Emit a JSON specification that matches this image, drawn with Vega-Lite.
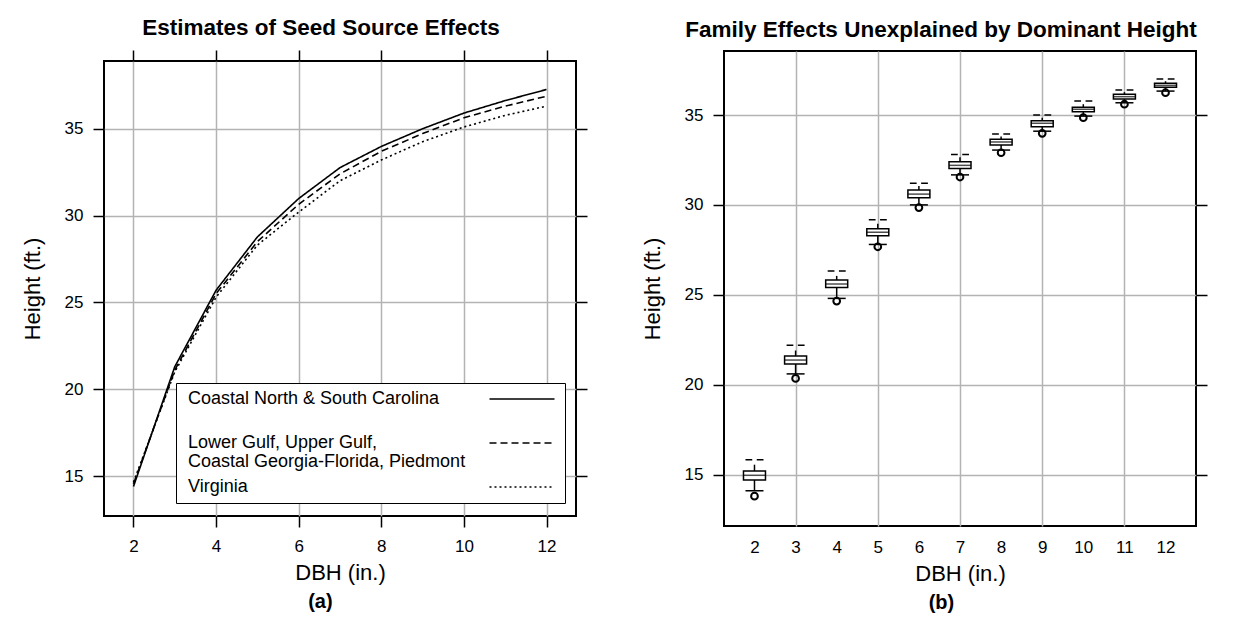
{
  "$schema": "https://vega.github.io/schema/vega-lite/v6.json",
  "background": "white",
  "padding": {"left": 20, "top": 16, "right": 5, "bottom": 0},
  "datasets": {
    "curves": [
      {"dbh": 2, "source": "Coastal North & South Carolina", "height": 14.4},
      {"dbh": 3, "source": "Coastal North & South Carolina", "height": 21.3},
      {"dbh": 4, "source": "Coastal North & South Carolina", "height": 25.7},
      {"dbh": 5, "source": "Coastal North & South Carolina", "height": 28.77},
      {"dbh": 6, "source": "Coastal North & South Carolina", "height": 30.98},
      {"dbh": 7, "source": "Coastal North & South Carolina", "height": 32.76},
      {"dbh": 8, "source": "Coastal North & South Carolina", "height": 33.98},
      {"dbh": 9, "source": "Coastal North & South Carolina", "height": 35.0},
      {"dbh": 10, "source": "Coastal North & South Carolina", "height": 35.9},
      {"dbh": 11, "source": "Coastal North & South Carolina", "height": 36.62},
      {"dbh": 12, "source": "Coastal North & South Carolina", "height": 37.26},
      {"dbh": 2, "source": "Lower Gulf, Upper Gulf, Coastal Georgia-Florida, Piedmont", "height": 14.55},
      {"dbh": 3, "source": "Lower Gulf, Upper Gulf, Coastal Georgia-Florida, Piedmont", "height": 21.1},
      {"dbh": 4, "source": "Lower Gulf, Upper Gulf, Coastal Georgia-Florida, Piedmont", "height": 25.5},
      {"dbh": 5, "source": "Lower Gulf, Upper Gulf, Coastal Georgia-Florida, Piedmont", "height": 28.5},
      {"dbh": 6, "source": "Lower Gulf, Upper Gulf, Coastal Georgia-Florida, Piedmont", "height": 30.65},
      {"dbh": 7, "source": "Lower Gulf, Upper Gulf, Coastal Georgia-Florida, Piedmont", "height": 32.4},
      {"dbh": 8, "source": "Lower Gulf, Upper Gulf, Coastal Georgia-Florida, Piedmont", "height": 33.7},
      {"dbh": 9, "source": "Lower Gulf, Upper Gulf, Coastal Georgia-Florida, Piedmont", "height": 34.72},
      {"dbh": 10, "source": "Lower Gulf, Upper Gulf, Coastal Georgia-Florida, Piedmont", "height": 35.63},
      {"dbh": 11, "source": "Lower Gulf, Upper Gulf, Coastal Georgia-Florida, Piedmont", "height": 36.3},
      {"dbh": 12, "source": "Lower Gulf, Upper Gulf, Coastal Georgia-Florida, Piedmont", "height": 36.87},
      {"dbh": 2, "source": "Virginia", "height": 14.65},
      {"dbh": 3, "source": "Virginia", "height": 21.0},
      {"dbh": 4, "source": "Virginia", "height": 25.3},
      {"dbh": 5, "source": "Virginia", "height": 28.3},
      {"dbh": 6, "source": "Virginia", "height": 30.2},
      {"dbh": 7, "source": "Virginia", "height": 32.0},
      {"dbh": 8, "source": "Virginia", "height": 33.2},
      {"dbh": 9, "source": "Virginia", "height": 34.25},
      {"dbh": 10, "source": "Virginia", "height": 35.1},
      {"dbh": 11, "source": "Virginia", "height": 35.77},
      {"dbh": 12, "source": "Virginia", "height": 36.3}
    ],
    "boxes": [
      {"dbh": 2, "cap": 15.83, "hi": 15.55, "q3": 15.2, "med": 14.96, "q1": 14.7, "lo": 14.1, "out": 13.8},
      {"dbh": 3, "cap": 22.2, "hi": 21.9, "q3": 21.6, "med": 21.37, "q1": 21.15, "lo": 20.6, "out": 20.35},
      {"dbh": 4, "cap": 26.33, "hi": 26.05, "q3": 25.82, "med": 25.6, "q1": 25.4, "lo": 24.8, "out": 24.65},
      {"dbh": 5, "cap": 29.17, "hi": 28.95, "q3": 28.68, "med": 28.48, "q1": 28.28, "lo": 27.8, "out": 27.67},
      {"dbh": 6, "cap": 31.2, "hi": 31.05, "q3": 30.83, "med": 30.6, "q1": 30.4, "lo": 30.0, "out": 29.85},
      {"dbh": 7, "cap": 32.8, "hi": 32.65, "q3": 32.4, "med": 32.2, "q1": 32.03, "lo": 31.67, "out": 31.55},
      {"dbh": 8, "cap": 33.94, "hi": 33.8, "q3": 33.65, "med": 33.5, "q1": 33.33, "lo": 33.05, "out": 32.9},
      {"dbh": 9, "cap": 35.0, "hi": 34.85, "q3": 34.68, "med": 34.54, "q1": 34.35, "lo": 34.1, "out": 33.98},
      {"dbh": 10, "cap": 35.78, "hi": 35.6, "q3": 35.43, "med": 35.32, "q1": 35.18, "lo": 34.94, "out": 34.85},
      {"dbh": 11, "cap": 36.39, "hi": 36.27, "q3": 36.15, "med": 36.02, "q1": 35.89, "lo": 35.68, "out": 35.6},
      {"dbh": 12, "cap": 37.0, "hi": 36.88, "q3": 36.76, "med": 36.65, "q1": 36.54, "lo": 36.33, "out": 36.24}
    ]
  },
  "spacing": 51,
  "hconcat": [
    {
      "title": {"text": "(a)", "orient": "bottom", "anchor": "middle", "frame": "bounds", "dx": 16, "fontSize": 20, "offset": 8},
      "spacing": 0,
      "bounds": "flush",
      "vconcat": [
        {
          "width": 472,
          "height": 10,
          "title": {"text": "Estimates of Seed Source Effects", "anchor": "middle", "frame": "group", "dx": -19, "offset": 12},
          "data": {"values": []},
          "mark": {"type": "point", "opacity": 0},
          "view": {"stroke": null, "fill": null}
        },
        {
          "width": 472,
          "height": 455,
          "data": {"name": "curves"},
          "layer": [
            {
              "mark": {"type": "line", "strokeWidth": 1.6, "color": "black"},
              "encoding": {
                "x": {"field": "dbh", "type": "quantitative", "scale": {"domain": [1.286, 12.714], "nice": false, "zero": false},
                  "axis": {"orient": "bottom", "values": [2, 4, 6, 8, 10, 12], "grid": true, "tickSize": 11, "labelPadding": 11, "title": "DBH (in.)", "titlePadding": 8}},
                "y": {"field": "height", "type": "quantitative", "scale": {"domain": [12.7, 38.9], "nice": false, "zero": false},
                  "axis": {"orient": "left", "values": [15, 20, 25, 30, 35], "grid": true, "tickSize": 11, "labelPadding": 10, "title": "Height (ft.)", "titlePadding": 20}},
                "strokeDash": {
                  "field": "source", "type": "nominal",
                  "scale": {"domain": ["Coastal North & South Carolina", "Lower Gulf, Upper Gulf, Coastal Georgia-Florida, Piedmont", "Virginia"], "range": [[1, 0], [7, 4], [2, 3]]},
                  "legend": {
                    "orient": "none", "legendX": 72, "legendY": 332, "title": null,
                    "symbolType": "M-6.5,0L6.5,0", "symbolSize": 100, "symbolStrokeWidth": 1.6, "symbolStrokeColor": "black", "symbolFillColor": "transparent",
                    "symbolOffset": 330, "labelOffset": -343,
                    "labelFontSize": 18, "labelColor": "black", "labelLimit": 400,
                    "labelExpr": "datum.label == 'Lower Gulf, Upper Gulf, Coastal Georgia-Florida, Piedmont' ? ['Lower Gulf, Upper Gulf,', 'Coastal Georgia-Florida, Piedmont'] : (datum.label == 'Virginia' ? datum.label : [datum.label, ''])",
                    "rowPadding": 7, "padding": 7,
                    "strokeColor": "black", "fillColor": "white",
                    "encode": {"labels": {"update": {"lineHeight": {"value": 18.5}}}}
                  }
                }
              }
            },
            {
              "mark": {"type": "line", "strokeOpacity": 0},
              "encoding": {
                "x": {"field": "dbh", "type": "quantitative", "scale": {"domain": [1.286, 12.714], "nice": false, "zero": false},
                  "axis": {"orient": "top", "values": [2, 4, 6, 8, 10, 12], "grid": false, "labels": false, "tickSize": 11, "title": null}},
                "y": {"field": "height", "type": "quantitative", "scale": {"domain": [12.7, 38.9], "nice": false, "zero": false},
                  "axis": {"orient": "right", "values": [15, 20, 25, 30, 35], "grid": false, "labels": false, "tickSize": 11, "title": null}},
                "detail": {"field": "source"}
              }
            }
          ],
          "resolve": {"axis": {"x": "independent", "y": "independent"}}
        }
      ]
    },
    {
      "title": {"text": "(b)", "orient": "bottom", "anchor": "middle", "frame": "bounds", "dx": 17, "fontSize": 20, "offset": 8},
      "vconcat": [
        {
          "width": 472,
          "height": 475,
          "title": {"text": "Family Effects Unexplained by Dominant Height", "anchor": "middle", "frame": "group", "dx": -19, "offset": 10},
          "data": {"name": "boxes"},
          "encoding": {
            "x": {"field": "dbh", "type": "quantitative", "scale": {"domain": [1.38, 12.62], "nice": false, "zero": false}, "axis": null}
          },
          "layer": [
            {
              "mark": {"type": "rule", "color": "black", "strokeWidth": 1.5},
              "encoding": {
                "x": {"field": "dbh", "type": "quantitative", "scale": {"domain": [1.38, 12.62], "nice": false, "zero": false},
                  "axis": {"orient": "bottom", "values": [2, 3, 4, 5, 6, 7, 8, 9, 10, 11, 12], "grid": false, "ticks": false, "labelPadding": 13, "title": "DBH (in.)", "titlePadding": 8}},
                "y": {"field": "lo", "type": "quantitative", "scale": {"domain": [12.14, 38.56], "nice": false, "zero": false},
                  "axis": {"orient": "left", "values": [15, 20, 25, 30, 35], "grid": true, "tickSize": 11, "labelPadding": 10, "title": "Height (ft.)", "titlePadding": 20}},
                "y2": {"field": "q1"}
              }
            },
            {
              "mark": {"type": "rule", "color": "black", "strokeWidth": 1.5},
              "encoding": {
                "x": {"field": "dbh", "type": "quantitative", "scale": {"domain": [1.38, 12.62], "nice": false, "zero": false},
                  "axis": {"orient": "top", "values": [3, 5, 7, 9, 11], "grid": true, "ticks": false, "labels": false, "title": null}},
                "y": {"field": "q3", "type": "quantitative", "scale": {"domain": [12.14, 38.56], "nice": false, "zero": false},
                  "axis": {"orient": "right", "values": [15, 20, 25, 30, 35], "grid": false, "labels": false, "tickSize": 11, "title": null}},
                "y2": {"field": "hi"}
              }
            },
            {
              "mark": {"type": "bar", "width": 22, "fill": "white", "stroke": "black", "strokeWidth": 1.5},
              "encoding": {
                "y": {"field": "q1", "type": "quantitative", "scale": {"domain": [12.14, 38.56], "nice": false, "zero": false}, "axis": null},
                "y2": {"field": "q3"}
              }
            },
            {
              "mark": {"type": "tick", "orient": "horizontal", "size": 22, "thickness": 1.5, "color": "black"},
              "encoding": {
                "y": {"field": "med", "type": "quantitative", "scale": {"domain": [12.14, 38.56], "nice": false, "zero": false}, "axis": null}
              }
            },
            {
              "mark": {"type": "point", "shape": "M-1,0L-0.25,0M0.25,0L1,0", "size": 324, "filled": false, "stroke": "black", "strokeWidth": 1.5, "opacity": 1},
              "encoding": {
                "y": {"field": "cap", "type": "quantitative", "scale": {"domain": [12.14, 38.56], "nice": false, "zero": false}, "axis": null}
              }
            },
            {
              "mark": {"type": "point", "shape": "M-1,0L1,0", "size": 324, "filled": false, "stroke": "black", "strokeWidth": 1.5, "opacity": 1},
              "encoding": {
                "y": {"field": "lo", "type": "quantitative", "scale": {"domain": [12.14, 38.56], "nice": false, "zero": false}, "axis": null}
              }
            },
            {
              "mark": {"type": "point", "shape": "circle", "size": 45, "filled": false, "stroke": "black", "strokeWidth": 2, "opacity": 1},
              "encoding": {
                "y": {"field": "out", "type": "quantitative", "scale": {"domain": [12.14, 38.56], "nice": false, "zero": false}, "axis": null}
              }
            }
          ],
          "resolve": {"axis": {"x": "independent", "y": "independent"}}
        }
      ]
    }
  ],
  "config": {
    "font": "Liberation Sans",
    "view": {"stroke": "black", "strokeWidth": 2},
    "axis": {
      "domain": false,
      "labelFont": "Liberation Sans", "labelFontSize": 17, "labelColor": "black",
      "titleFont": "Liberation Sans", "titleFontSize": 22, "titleFontWeight": "normal", "titleColor": "black",
      "tickColor": "black", "tickWidth": 1.5,
      "gridColor": "#b3b3b3", "gridWidth": 1.5, "gridOpacity": 1,
      "labelFlush": false, "labelOverlap": false
    },
    "title": {"font": "Liberation Sans", "fontSize": 22.5, "fontWeight": "bold", "color": "black"},
    "legend": {"labelFont": "Liberation Sans"}
  }
}
